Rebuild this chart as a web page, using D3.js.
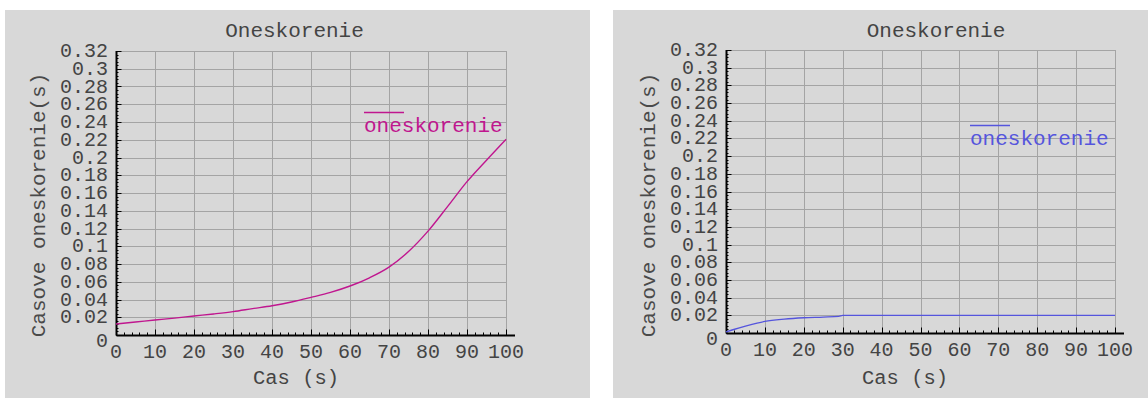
<!DOCTYPE html>
<html>
<head>
<meta charset="utf-8">
<script src="https://cdn.jsdelivr.net/npm/d3@7"></script>
<style>
  html, body { margin: 0; padding: 0; background: #ffffff; }
  svg { display: block; }
  text { font-family: "Liberation Mono", "Courier New", monospace; }
</style>
</head>
<body>
<svg id="chart" width="1148" height="398"></svg>
<script>
// ---- data ----
const chartTitle = "Oneskorenie";
const xAxisTitle = "Cas (s)";
const yAxisTitle = "Casove oneskorenie(s)";
const seriesName = "oneskorenie";

const xTickValues = [0, 10, 20, 30, 40, 50, 60, 70, 80, 90, 100];
const yTickValues = [0, 0.02, 0.04, 0.06, 0.08, 0.1, 0.12, 0.14, 0.16, 0.18, 0.2, 0.22, 0.24, 0.26, 0.28, 0.3, 0.32];
const yTickLabels = ["0", "0.02", "0.04", "0.06", "0.08", "0.1", "0.12", "0.14", "0.16", "0.18", "0.2", "0.22", "0.24", "0.26", "0.28", "0.3", "0.32"];

const leftX = [0, 5, 10, 15, 20, 25, 30, 35, 40, 45, 50, 55, 60, 65, 70, 75, 80, 85, 90, 95, 100];
const leftY = [0.0124, 0.0146, 0.0169, 0.019, 0.0214, 0.0237, 0.0263, 0.0297, 0.033, 0.0372, 0.0424, 0.048, 0.0552, 0.0645, 0.0765, 0.094, 0.117, 0.1446, 0.1728, 0.197, 0.2205];

const rightX = [0, 2, 5, 8, 10, 15, 20, 25, 29, 30, 40, 50, 60, 70, 80, 90, 100];
const rightY = [0.0012, 0.004, 0.0078, 0.0112, 0.0131, 0.0157, 0.0172, 0.018, 0.0188, 0.0199, 0.0199, 0.0199, 0.0199, 0.0199, 0.0199, 0.0199, 0.0199];

// ---- drawing ----
const svg = d3.select("#chart");

function drawPanel(p) {
  const g = svg.append("g");
  g.append("rect").attr("x", p.bx).attr("y", p.by).attr("width", p.bw).attr("height", p.bh).attr("fill", "#d8d8d8");

  const x = d3.scaleLinear().domain([0, 100]).range([p.x0, p.x1]);
  const y = d3.scaleLinear().domain([0, 0.32]).range([p.y1, p.y0]);

  // grid
  g.append("g").selectAll("line").data(yTickValues).join("line")
    .attr("x1", p.x0).attr("x2", p.x1)
    .attr("y1", d => Math.round(y(d)) + 0.5).attr("y2", d => Math.round(y(d)) + 0.5)
    .attr("stroke", "#a4a4a4").attr("stroke-width", 1);
  g.append("g").selectAll("line").data(xTickValues).join("line")
    .attr("x1", d => Math.round(x(d)) + 0.5).attr("x2", d => Math.round(x(d)) + 0.5)
    .attr("y1", p.y0).attr("y2", p.y1)
    .attr("stroke", "#a4a4a4").attr("stroke-width", 1);

  // minor ticks
  const xMinor = d3.range(0, 101, 2);
  const yMinor = d3.range(0, 81).map(i => i * 0.004);
  const ax = Math.round(p.x0) + 0.5, ay = Math.round(p.y1) + 0.5;
  g.append("g").selectAll("line").data(xMinor).join("line")
    .attr("x1", d => Math.round(x(d)) + 0.5).attr("x2", d => Math.round(x(d)) + 0.5)
    .attr("y1", ay).attr("y2", d => ay - (d % 10 === 0 ? 6 : 3))
    .attr("stroke", "#000").attr("stroke-width", 1);
  g.append("g").selectAll("line").data(yMinor).join("line")
    .attr("y1", d => Math.round(y(d)) + 0.5).attr("y2", d => Math.round(y(d)) + 0.5)
    .attr("x1", ax).attr("x2", (d, i) => ax + (i % 5 === 0 ? 5 : 2))
    .attr("stroke", "#000").attr("stroke-width", 1);

  // axis lines
  g.append("line").attr("x1", ax).attr("x2", ax).attr("y1", p.y0).attr("y2", ay)
    .attr("stroke", "#000").attr("stroke-width", 2);
  g.append("line").attr("x1", ax).attr("x2", p.x1 + 9).attr("y1", ay).attr("y2", ay)
    .attr("stroke", "#000").attr("stroke-width", 2);

  // tick labels
  g.append("g").selectAll("text").data(xTickValues).join("text")
    .attr("x", d => x(d)).attr("y", p.y1 + 23)
    .attr("text-anchor", "middle").attr("font-size", 20).attr("fill", "#444")
    .text(d => d);
  g.append("g").selectAll("text").data(yTickValues).join("text")
    .attr("x", p.x0 - 8).attr("y", (d, i) => y(d) + (i === 0 ? 12 : 6))
    .attr("text-anchor", "end").attr("font-size", 20).attr("fill", "#444")
    .text((d, i) => yTickLabels[i]);

  // titles
  g.append("text").attr("x", p.tx).attr("y", 37).attr("text-anchor", "middle")
    .attr("font-size", 21).attr("fill", "#444").text(chartTitle);
  g.append("text").attr("x", p.xlx).attr("y", 384).attr("text-anchor", "middle")
    .attr("font-size", 20.5).attr("fill", "#444").text(xAxisTitle);
  g.append("text").attr("transform", `translate(${p.ylx},205) rotate(-90)`).attr("text-anchor", "middle")
    .attr("font-size", 21).attr("fill", "#4a4a4a").text(yAxisTitle);

  // series
  const line = d3.line().x(d => x(d[0])).y(d => y(d[1])).curve(d3.curveMonotoneX);
  g.append("path").datum(p.xs.map((v, i) => [v, p.ys[i]]))
    .attr("d", line).attr("fill", "none").attr("stroke", p.color).attr("stroke-width", 1.4);

  // legend
  g.append("line").attr("x1", p.lx).attr("x2", p.lx + 40).attr("y1", p.ly).attr("y2", p.ly)
    .attr("stroke", p.color).attr("stroke-width", 1.5);
  g.append("text").attr("x", p.lx).attr("y", p.ly + 19).attr("font-size", 21)
    .attr("fill", p.color).text(seriesName);
}

drawPanel({ bx: 5, by: 10, bw: 585, bh: 388, x0: 116, x1: 506, y0: 51, y1: 335,
  tx: 294.5, xlx: 296, ylx: 45, lx: 364, ly: 112.5, color: "#c0168f", xs: leftX, ys: leftY });
drawPanel({ bx: 613, by: 10, bw: 535, bh: 388, x0: 726, x1: 1115, y0: 50, y1: 333,
  tx: 936, xlx: 905, ylx: 655, lx: 970, ly: 125.5, color: "#5555dd", xs: rightX, ys: rightY });
</script>
</body>
</html>
